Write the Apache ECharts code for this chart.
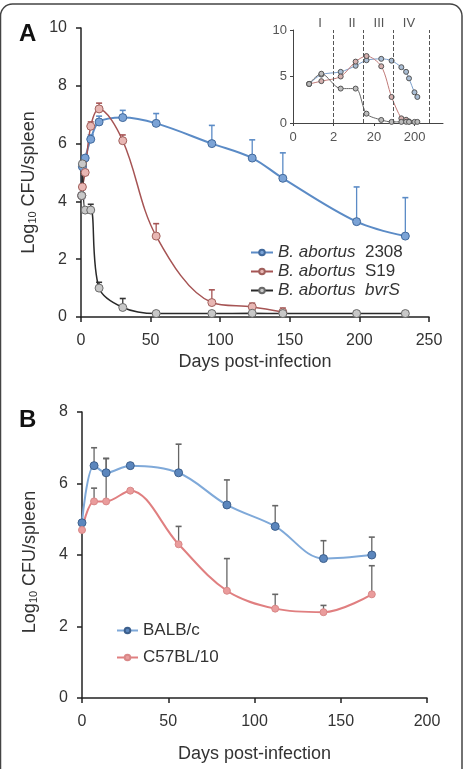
<!DOCTYPE html>
<html>
<head>
<meta charset="utf-8">
<title>Brucella spleen CFU</title>
<script src="https://cdn.jsdelivr.net/npm/echarts@6/dist/echarts.min.js"></script>
<style>
  html, body { margin: 0; padding: 0; background: #fff; }
  #chart { width: 465px; height: 769px; }
</style>
</head>
<body>
<div id="chart"></div>
<script>
// panel A - days post-infection, log10 CFU/spleen
const daysA = [0.5, 1, 3, 7, 13, 30, 54, 94, 123, 145, 198, 233]
const strain2308 = [4.2, 5.2, 5.5, 6.15, 6.75, 6.9, 6.7, 6.0, 5.5, 4.8, 3.3, 2.8]
const strainS19 = [4.2, 4.5, 5.0, 6.6, 7.2, 6.1, 2.8, 0.5, 0.35, 0.17]
const strainBvrS = [4.2, 5.3, 3.7, 3.7, 1.0, 0.33, 0.12, 0.12, 0.13, 0.12, 0.12, 0.12]
// upper error (SD), null = no bar
const err2308 = [null, null, null, 0.15, 0.2, 0.25, 0.34, 0.63, 0.63, 0.88, 1.2, 1.33]
const errS19 = [null, null, null, 0.15, 0.2, 0.2, 0.43, 0.44, 0.13, 0.14]
const errBvrS = [null, null, null, 0.2, 0.2, 0.31, null, null, null, null, null, null]

// inset - phase boundaries (days) and names
const phaseBounds = [2, 11, 60, 450]
const phaseNames = ['I', 'II', 'III', 'IV']
const insetTicks = [0.2, 2, 20, 200]

// panel B - mouse strains
const daysB = [0, 7, 14, 28, 56, 84, 112, 140, 168]
const balbc = [4.9, 6.5, 6.3, 6.5, 6.3, 5.4, 4.8, 3.9, 4.0]
const c57 = [4.7, 5.5, 5.5, 5.8, 4.3, 3.0, 2.5, 2.4, 2.9]
const errBalbc = [null, 0.5, 0.4, null, 0.8, 0.7, 0.58, 0.5, 0.5]
const errC57 = [null, 0.37, 1.2, 0.05, 0.5, 0.9, 0.4, 0.19, 0.8]

const FONT = 'Liberation Sans'
const TXT = '#333'

const pairs = (xs, ys) => ys.map((v, i) => [xs[i], v])
const errData = (xs, ys, es) => {
  const out = []
  es.forEach((e, i) => { if (e != null) out.push([xs[i], ys[i], ys[i] + e]) })
  return out
}

const errorBar = (color) => (params, api) => {
  const p = api.coord([api.value(0), api.value(1)])
  const t = api.coord([api.value(0), api.value(2)])
  return {
    type: 'group',
    children: [
      { type: 'line', shape: { x1: p[0], y1: p[1], x2: t[0], y2: t[1] }, style: { stroke: color, lineWidth: 1.3 } },
      { type: 'line', shape: { x1: t[0] - 3, y1: t[1], x2: t[0] + 3, y2: t[1] }, style: { stroke: color, lineWidth: 1.6 } },
    ],
  }
}

const mainAxis = {
  axisLine: { lineStyle: { color: '#222', width: 1.5 } },
  axisTick: { show: true, inside: false, length: 5, lineStyle: { color: '#222', width: 1.5 } },
  splitLine: { show: false },
}

const yName = {
  a: { fontSize: 18, fontFamily: FONT, color: TXT },
  s: { fontSize: 11, fontFamily: FONT, color: TXT, verticalAlign: 'bottom' },
}

const chart = echarts.init(document.getElementById('chart'), null, { renderer: 'canvas' })

const option = {
  backgroundColor: '#fff',
  animation: false,
  textStyle: { fontFamily: FONT },
  title: [
    { text: 'A', left: 14, top: 17, textStyle: { fontSize: 24, fontWeight: 'bold', color: '#111', fontFamily: FONT } },
    { text: 'B', left: 14, top: 403, textStyle: { fontSize: 24, fontWeight: 'bold', color: '#111', fontFamily: FONT } },
  ],
  legend: [
    {
      data: ['B. abortus 2308', 'B. abortus S19', 'B. abortus bvrS'],
      orient: 'vertical',
      left: 250,
      top: 243,
      padding: 0,
      itemWidth: 22,
      itemHeight: 7,
      itemGap: 0,
      textStyle: { fontSize: 17, color: TXT, lineHeight: 19, fontFamily: FONT,
        rich: { i: { fontStyle: 'italic', fontSize: 17, color: TXT, fontFamily: FONT } } },
      formatter: (n) => {
        const s = n.slice(11)
        return '{i|B. abortus}  ' + (s === 'bvrS' ? '{i|bvrS}' : s)
      },
    },
    {
      data: ['BALB/c', 'C57BL/10'],
      orient: 'vertical',
      left: 116,
      top: 621,
      padding: 0,
      itemWidth: 21,
      itemHeight: 7,
      itemGap: 8,
      textStyle: { fontSize: 17, color: TXT, lineHeight: 19, fontFamily: FONT },
    },
  ],
  grid: [
    { left: 81, top: 28, width: 348, height: 289 },
    { left: 293, top: 30, width: 150, height: 93 },
    { left: 82, top: 412, width: 345, height: 286 },
  ],
  xAxis: [
    {
      ...mainAxis, gridIndex: 0, type: 'value', min: 0, max: 250, interval: 50,
      axisLabel: { fontSize: 16, color: TXT, margin: 16 },
      name: 'Days post-infection', nameLocation: 'middle', nameGap: 36,
      nameTextStyle: { fontSize: 18, color: TXT },
    },
    {
      gridIndex: 1, type: 'log', logBase: 10, min: 0.2, max: 1000,
      axisLine: { lineStyle: { color: '#444', width: 1 } },
      axisTick: { show: true, length: 3, customValues: insetTicks, lineStyle: { color: '#444' } },
      axisLabel: { fontSize: 13, color: '#555', margin: 8, customValues: insetTicks,
        formatter: (v) => String(Math.round(v)) },
      splitLine: { show: false },
      minorTick: { show: false },
    },
    {
      ...mainAxis, gridIndex: 2, type: 'value', min: 0, max: 200, interval: 50,
      axisLabel: { fontSize: 16, color: TXT, margin: 16 },
      name: 'Days post-infection', nameLocation: 'middle', nameGap: 47,
      nameTextStyle: { fontSize: 18, color: TXT },
    },
  ],
  yAxis: [
    {
      ...mainAxis, gridIndex: 0, type: 'value', min: 0, max: 10, interval: 2,
      axisLabel: { fontSize: 16, color: TXT, margin: 14 },
      name: '{a|Log}{s|10}{a| CFU/spleen}', nameLocation: 'middle', nameGap: 43,
      nameTextStyle: { rich: yName, padding: [0, 20, 0, 0] },
    },
    {
      gridIndex: 1, type: 'value', min: 0, max: 10, interval: 5,
      axisLine: { show: true, lineStyle: { color: '#444', width: 1 } },
      axisTick: { show: true, length: 3, lineStyle: { color: '#444' } },
      axisLabel: { fontSize: 13, color: '#555', margin: 6 },
      splitLine: { show: false },
    },
    {
      ...mainAxis, gridIndex: 2, type: 'value', min: 0, max: 8, interval: 2,
      axisLabel: { fontSize: 16, color: TXT, margin: 14 },
      name: '{a|Log}{s|10}{a| CFU/spleen}', nameLocation: 'middle', nameGap: 43,
      nameTextStyle: { rich: yName, padding: [0, 14, 0, 0] },
    },
  ],
  series: [
    // panel A error bars
    { type: 'custom', xAxisIndex: 0, yAxisIndex: 0, z: 1, renderItem: errorBar('#5b8bc6'),
      encode: { x: 0, y: [1, 2] }, data: errData(daysA, strain2308, err2308) },
    { type: 'custom', xAxisIndex: 0, yAxisIndex: 0, z: 1, renderItem: errorBar('#a65454'),
      encode: { x: 0, y: [1, 2] }, data: errData(daysA, strainS19, errS19) },
    { type: 'custom', xAxisIndex: 0, yAxisIndex: 0, z: 1, renderItem: errorBar('#333'),
      encode: { x: 0, y: [1, 2] }, data: errData(daysA, strainBvrS, errBvrS) },
    // panel A lines
    {
      name: 'B. abortus 2308', type: 'line', xAxisIndex: 0, yAxisIndex: 0, z: 3, smooth: 0.35,
      symbol: 'circle', symbolSize: 8,
      lineStyle: { color: '#5b8bc6', width: 2 },
      itemStyle: { color: '#7ba3d6', borderColor: '#41699c', borderWidth: 1 },
      data: pairs(daysA, strain2308),
    },
    {
      name: 'B. abortus S19', type: 'line', xAxisIndex: 0, yAxisIndex: 0, z: 3, smooth: 0.35,
      symbol: 'circle', symbolSize: 8,
      lineStyle: { color: '#a65454', width: 1.5 },
      itemStyle: { color: '#e8b7b4', borderColor: '#a0605c', borderWidth: 1 },
      data: pairs(daysA, strainS19),
    },
    {
      name: 'B. abortus bvrS', type: 'line', xAxisIndex: 0, yAxisIndex: 0, z: 3, smooth: 0.35,
      symbol: 'circle', symbolSize: 8,
      lineStyle: { color: '#2a2a2a', width: 1.5 },
      itemStyle: { color: '#c8c8c8', borderColor: '#6a6a6a', borderWidth: 1 },
      data: pairs(daysA, strainBvrS),
    },
    // inset (log time axis)
    {
      name: 'inset 2308', type: 'line', xAxisIndex: 1, yAxisIndex: 1, smooth: 0.3,
      symbol: 'circle', symbolSize: 5,
      lineStyle: { color: '#7b9fcc', width: 1 },
      itemStyle: { color: '#a9bdd4', borderColor: '#555', borderWidth: 1 },
      data: pairs(daysA, strain2308),
    },
    {
      name: 'inset S19', type: 'line', xAxisIndex: 1, yAxisIndex: 1, smooth: 0.3,
      symbol: 'circle', symbolSize: 5,
      lineStyle: { color: '#c07a78', width: 1 },
      itemStyle: { color: '#d5b0ae', borderColor: '#555', borderWidth: 1 },
      data: pairs(daysA, strainS19),
    },
    {
      name: 'inset bvrS', type: 'line', xAxisIndex: 1, yAxisIndex: 1, smooth: 0.3,
      symbol: 'circle', symbolSize: 5,
      lineStyle: { color: '#666', width: 1 },
      itemStyle: { color: '#bbb', borderColor: '#555', borderWidth: 1 },
      data: pairs(daysA, strainBvrS),
      markLine: {
        silent: true, symbol: 'none', label: { show: false },
        lineStyle: { type: 'dashed', color: '#555', width: 1 },
        data: phaseBounds.map((v) => ({ xAxis: v })),
      },
    },
    // panel B error bars
    { type: 'custom', xAxisIndex: 2, yAxisIndex: 2, z: 1, renderItem: errorBar('#666'),
      encode: { x: 0, y: [1, 2] }, data: errData(daysB, c57, errC57) },
    { type: 'custom', xAxisIndex: 2, yAxisIndex: 2, z: 1, renderItem: errorBar('#666'),
      encode: { x: 0, y: [1, 2] }, data: errData(daysB, balbc, errBalbc) },
    // panel B lines
    {
      name: 'BALB/c', type: 'line', xAxisIndex: 2, yAxisIndex: 2, z: 3, smooth: 0.35,
      symbol: 'circle', symbolSize: 8,
      lineStyle: { color: '#7fa9d9', width: 2 },
      itemStyle: { color: '#5b86bd', borderColor: '#3c5f8c', borderWidth: 1 },
      data: pairs(daysB, balbc),
    },
    {
      name: 'C57BL/10', type: 'line', xAxisIndex: 2, yAxisIndex: 2, z: 3, smooth: 0.35,
      symbol: 'circle', symbolSize: 7,
      lineStyle: { color: '#e07f80', width: 2 },
      itemStyle: { color: '#ea9c9c', borderColor: '#d98888', borderWidth: 1 },
      data: pairs(daysB, c57),
    },
  ],
  graphic: [
    {
      type: 'rect', silent: true, z: 100,
      shape: { x: 0.5, y: 4, width: 461.5, height: 800, r: 12 },
      style: { fill: 'none', stroke: '#444', lineWidth: 1.5 },
    },
    ...phaseNames.map((t, i) => ({
      type: 'text', silent: true,
      x: [320, 352, 379, 409][i], y: 23,
      style: { text: t, fontSize: 13, fill: '#555', fontFamily: FONT, align: 'center', verticalAlign: 'middle' },
    })),
  ],
}

chart.setOption(option)
</script>
</body>
</html>
